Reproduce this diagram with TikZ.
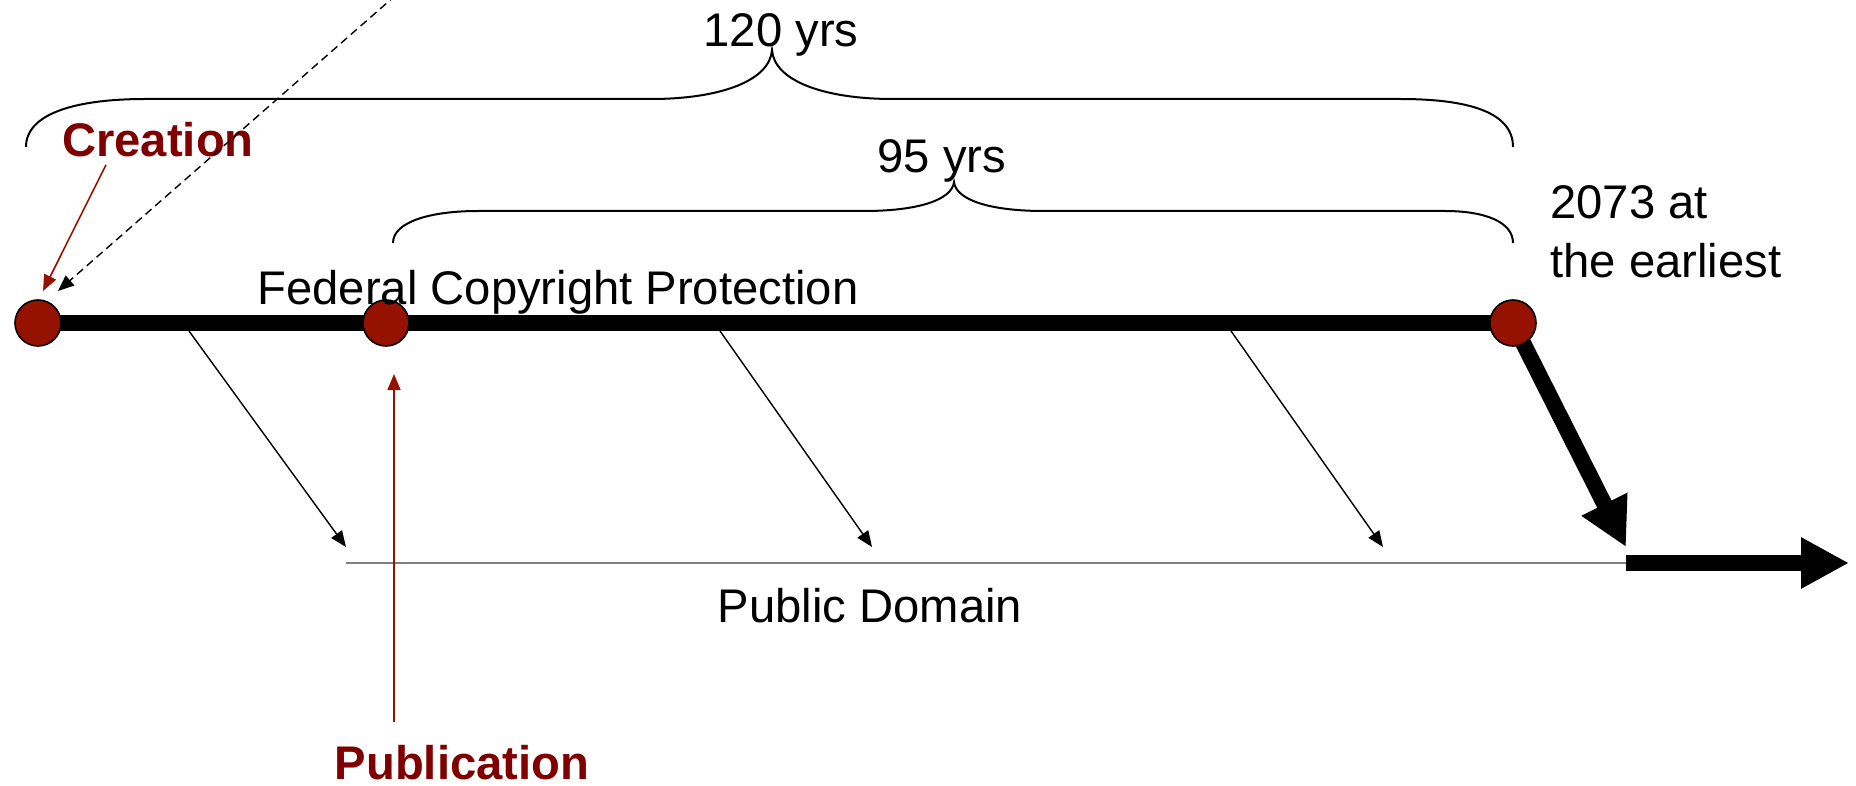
\documentclass[tikz,border=0pt]{standalone}
\usepackage{fontspec}
\setmainfont{Liberation Sans}
\usetikzlibrary{arrows.meta,backgrounds}

\definecolor{dotred}{RGB}{150,18,0}
\definecolor{textred}{RGB}{128,0,0}

\tikzset{
  lbl/.style={inner sep=0pt, font=\fontsize{23.6}{28}\selectfont},
  redlbl/.style={lbl, text=textred, font=\fontsize{23.6}{28}\selectfont\bfseries},
  dot/.style={circle, draw=black, line width=0.8pt, fill=dotred, minimum size=23pt, inner sep=0pt},
  thinarrow/.style={line width=0.7pt, -{Triangle[length=8pt,width=6.5pt]}},
  bigarrow/.style={line width=8pt, -{Triangle[length=24pt,width=24pt]}},
  brace/.style={line width=1pt},
}

\begin{document}
\begin{tikzpicture}[x=0.5pt, y=-0.5pt]
\useasboundingbox (0,0) rectangle (1856,786);

% dots on the timeline
\node[dot] (credot) at (38,323) {};
\node[dot] (pubdot) at (386,323) {};
\node[dot] (enddot) at (1513,323) {};

\coordinate (bend) at (1626,547);
\coordinate (pdstart) at (346,563);
\coordinate (pdend) at (1626,563);
\coordinate (forever) at (1849,563);

\begin{scope}[on background layer]
\draw[line width=8pt] (credot.center) -- (enddot.center);
\draw[bigarrow] (enddot.center) -- (bend);
\end{scope}
\draw[bigarrow] (pdend) -- (forever);
\draw[gray, line width=1pt] (pdstart) -- (pdend);

% labels
\node[lbl, anchor=base] (tot) at (781,47) {120 yrs};
\node[lbl, anchor=base] (pubyrs) at (942,173) {95 yrs};
\node[lbl, anchor=base] (fed) at (558,304) {Federal Copyright Protection};
\node[lbl, anchor=base] (pd) at (870,622) {Public Domain};
\node[lbl, align=left, anchor=base west] (year) at (1550,278) {2073 at\\[1.5pt]the earliest};
\node[redlbl, anchor=base] (creation) at (158,157) {Creation};
\node[redlbl, anchor=base] (publication) at (462,779) {Publication};

% braces
\draw[brace] (26,147) .. controls (26,112) and (80,99) .. (145,99) -- (651,99)
  .. controls (722,99) and (770,80) .. (772,50)
  .. controls (774,80) and (822,99) .. (893,99) -- (1400,99)
  .. controls (1468,99) and (1513,112) .. (1513,147);
\draw[brace] (393,243) .. controls (393,222) and (430,211) .. (478,211) -- (864,211)
  .. controls (918,211) and (952,200) .. (954,182)
  .. controls (956,200) and (990,211) .. (1044,211) -- (1445,211)
  .. controls (1485,211) and (1513,222) .. (1513,243);

% arrows to public domain
\foreach \sx/\tx [count=\i] in {189/346, 720/872, 1231/1383}{
  \coordinate (from\i) at (\sx,331);
  \coordinate (to\i) at (\tx,547);
  \draw[thinarrow] (from\i) -- (to\i);
}

% creation and publication pointers
\coordinate (cretip) at (43,291);
\coordinate (dashtip) at (58,291);
\coordinate (dashtop) at (396,-5);
\coordinate (pubtip) at (394,374);
\draw[thinarrow, dotred, line width=0.8pt] ([xshift=-26pt,yshift=-3.5pt]creation.south) -- (cretip);
\draw[thinarrow, dash pattern=on 4pt off 2.5pt] (dashtop) -- (dashtip);
\draw[thinarrow, dotred, line width=0.8pt] ([xshift=-34pt,yshift=11pt]publication.north) -- (pubtip);
\end{tikzpicture}
\end{document}
